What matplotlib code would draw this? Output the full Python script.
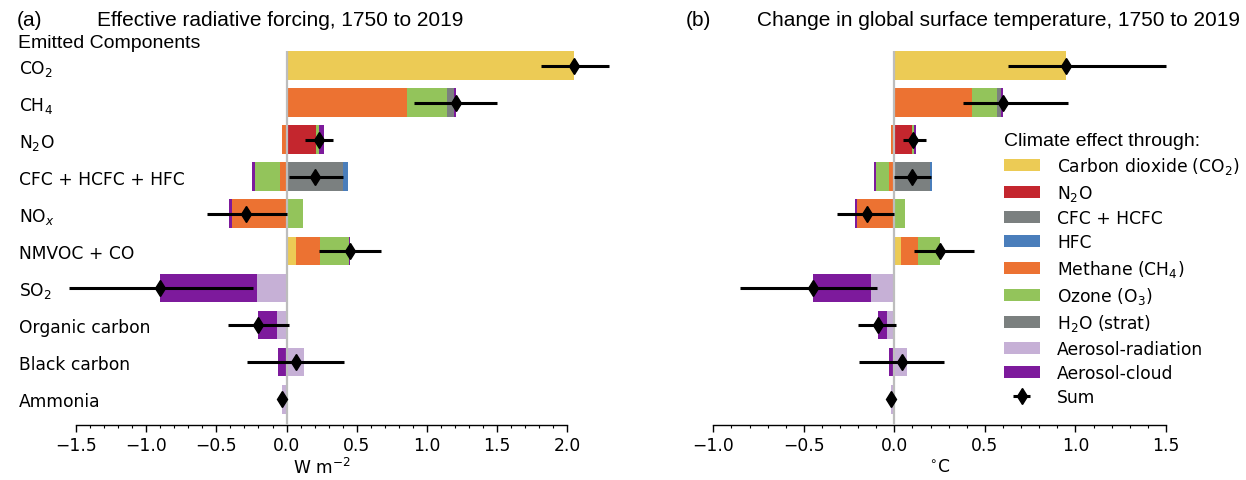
import numpy as np
import matplotlib
matplotlib.use("Agg")
import matplotlib.pyplot as plt
from matplotlib.patches import Patch
from matplotlib.ticker import MultipleLocator

plt.rcParams['font.family'] = ['DejaVu Sans']
plt.rcParams['mathtext.fontset'] = 'dejavusans'

# ---------------- data ----------------
categories = ['CO$_2$', 'CH$_4$', 'N$_2$O', 'CFC + HCFC + HFC', 'NO$_x$',
              'NMVOC + CO', 'SO$_2$', 'Organic carbon', 'Black carbon', 'Ammonia']
effects = ['Carbon dioxide (CO$_2$)', 'N$_2$O', 'CFC + HCFC', 'HFC', 'Methane (CH$_4$)',
           'Ozone (O$_3$)', 'H$_2$O (strat)', 'Aerosol-radiation', 'Aerosol-cloud']
effect_colors = ['#ECCB55', '#C4262E', '#7B8080', '#4A7EBB', '#EC7232',
                 '#93C45B', '#7B807F', '#C6B0D6', '#7D1A9C']

# (a) Effective radiative forcing (W m-2), per climate effect, per emitted component
erf_co2     = [2.05, 0, 0, 0, 0, 0.07, 0, 0, 0, 0]
erf_n2o     = [0, 0, 0.21, 0, 0, 0, 0, 0, 0, 0]
erf_cfc     = [0, 0, 0, 0.40, 0, 0, 0, 0, 0, 0]
erf_hfc     = [0, 0, 0, 0.04, 0, 0, 0, 0, 0, 0]
erf_ch4     = [0, 0.86, -0.035, -0.05, -0.39, 0.165, 0, 0, 0, 0]
erf_o3      = [0, 0.28, 0.02, -0.175, 0.12, 0.21, 0, 0, 0, 0]
erf_h2o     = [0, 0.05, 0, 0, 0, 0, 0, 0, 0, 0]
erf_aer_rad = [0, 0, 0, 0, 0, 0, -0.21, -0.065, 0.127, -0.03]
erf_aer_cld = [0, 0.02, 0.04, -0.02, -0.02, 0.01, -0.69, -0.135, -0.06, 0]
erf_sum     = [2.05, 1.21, 0.23, 0.20, -0.29, 0.45, -0.90, -0.20, 0.065, -0.03]
erf_low     = [1.81, 0.91, 0.13, 0.02, -0.57, 0.23, -1.55, -0.42, -0.28, -0.045]
erf_high    = [2.30, 1.50, 0.33, 0.40, 0.00, 0.67, -0.24, 0.02, 0.41, -0.015]

# (b) Change in global surface temperature (deg C)
dt_co2      = [0.95, 0, 0, 0, 0, 0.035, 0, 0, 0, 0]
dt_n2o      = [0, 0, 0.097, 0, 0, 0, 0, 0, 0, 0]
dt_cfc      = [0, 0, 0, 0.195, 0, 0, 0, 0, 0, 0]
dt_hfc      = [0, 0, 0, 0.013, 0, 0, 0, 0, 0, 0]
dt_ch4      = [0, 0.43, -0.02, -0.027, -0.207, 0.097, 0, 0, 0, 0]
dt_o3       = [0, 0.135, 0.009, -0.075, 0.06, 0.118, 0, 0, 0, 0]
dt_h2o      = [0, 0.025, 0, 0, 0, 0, 0, 0, 0, 0]
dt_aer_rad  = [0, 0, 0, 0, 0, 0, -0.128, -0.038, 0.067, -0.017]
dt_aer_cld  = [0, 0.01, 0.015, -0.01, -0.008, 0.003, -0.319, -0.052, -0.027, 0]
dt_sum      = [0.95, 0.60, 0.104, 0.097, -0.152, 0.252, -0.447, -0.09, 0.04, -0.017]
dt_low      = [0.63, 0.38, 0.05, 0.0, -0.315, 0.11, -0.855, -0.20, -0.193, -0.025]
dt_high     = [1.50, 0.96, 0.175, 0.20, 0.0, 0.44, -0.097, 0.01, 0.273, -0.01]

erf_parts = [erf_co2, erf_n2o, erf_cfc, erf_hfc, erf_ch4, erf_o3, erf_h2o, erf_aer_rad, erf_aer_cld]
dt_parts = [dt_co2, dt_n2o, dt_cfc, dt_hfc, dt_ch4, dt_o3, dt_h2o, dt_aer_rad, dt_aer_cld]

# ---------------- figure ----------------
W, H = 1246, 481
fig = plt.figure(figsize=(W / 100, H / 100), dpi=100)

def fx(px):
    return px / W

def fy(py):
    return 1 - py / H

ax_top, ax_bot = 52, 426
axA = fig.add_axes([fx(76), fy(ax_bot), fx(567.3 - 76), (ax_bot - ax_top) / H])
axB = fig.add_axes([fx(713.3), fy(ax_bot), fx(1166 - 713.3), (ax_bot - ax_top) / H])

ypos = np.arange(len(categories))
TICKSIZE = 12.3


def draw(ax, parts, sums, lows, highs, xlim):
    pos = np.zeros(len(categories))
    neg = np.zeros(len(categories))
    for vals, col in zip(parts, effect_colors):
        v = np.asarray(vals, dtype=float)
        p = np.clip(v, 0, None)
        q = np.clip(v, None, 0)
        ax.barh(ypos, p, left=pos, height=0.78, color=col, linewidth=0, zorder=2, clip_on=False)
        ax.barh(ypos, q, left=neg, height=0.78, color=col, linewidth=0, zorder=2, clip_on=False)
        pos += p
        neg += q
    s = np.asarray(sums)
    ax.axvline(0, color='#BDBDBD', lw=1.6, zorder=3)
    eb = ax.errorbar(s, ypos, xerr=[s - np.asarray(lows), np.asarray(highs) - s],
                     fmt='d', color='black', ms=8.2, elinewidth=2.2, capsize=0, zorder=5,
                     clip_on=False)
    for art in eb.get_children():
        art.set_clip_on(False)
    ax.set_xlim(*xlim)
    ax.set_ylim(len(categories) - 0.3, -0.4)
    for sp in ['top', 'right', 'left']:
        ax.spines[sp].set_visible(False)
    ax.spines['bottom'].set_linewidth(1.0)
    ax.xaxis.set_major_locator(MultipleLocator(0.5))
    ax.xaxis.set_minor_locator(MultipleLocator(0.1))
    ax.tick_params(axis='x', which='major', length=5, width=1, labelsize=TICKSIZE, pad=3)
    ax.tick_params(axis='x', which='minor', length=2.5, width=0.8)
    return eb


draw(axA, erf_parts, erf_sum, erf_low, erf_high, (-1.5, 2.0))
eb = draw(axB, dt_parts, dt_sum, dt_low, dt_high, (-1.0, 1.5))

axA.set_yticks(ypos)
axA.set_yticklabels(categories, ha='left', fontsize=TICKSIZE)
axA.tick_params(axis='y', length=0, pad=(76 - 19) * 0.72)
axB.set_yticks([])

axA.set_xlabel('W m$^{-2}$', fontsize=TICKSIZE, labelpad=2)
axB.set_xlabel('$^{\\circ}$C', fontsize=TICKSIZE, labelpad=2)

# titles / annotations
tfont = dict(family='Liberation Sans', size=15)
fig.text(fx(17), fy(21), '(a)', va='center', ha='left', **tfont)
fig.text(fx(97), fy(21), 'Effective radiative forcing, 1750 to 2019', va='center', ha='left', **tfont)
fig.text(fx(686), fy(21), '(b)', va='center', ha='left', **tfont)
fig.text(fx(757), fy(21), 'Change in global surface temperature, 1750 to 2019', va='center', ha='left', **tfont)
fig.text(fx(18), fy(44), 'Emitted Components', va='center', ha='left', family='Liberation Sans', size=14)

# legend
handles = [Patch(facecolor=c, edgecolor='none') for c in effect_colors] + [eb]
labels = effects + ['Sum']
leg = axB.legend(handles, labels, loc='upper left', bbox_to_anchor=(fx(1004), fy(133)),
                 bbox_transform=fig.transFigure, frameon=False, fontsize=TICKSIZE,
                 title='Climate effect through:',
                 title_fontproperties={'family': 'Liberation Sans', 'size': 14},
                 alignment='left', borderpad=0, borderaxespad=0,
                 handlelength=2.1, handleheight=0.7, handletextpad=1.0,
                 labelspacing=0.37)

fig.savefig('out.png', dpi=100)
